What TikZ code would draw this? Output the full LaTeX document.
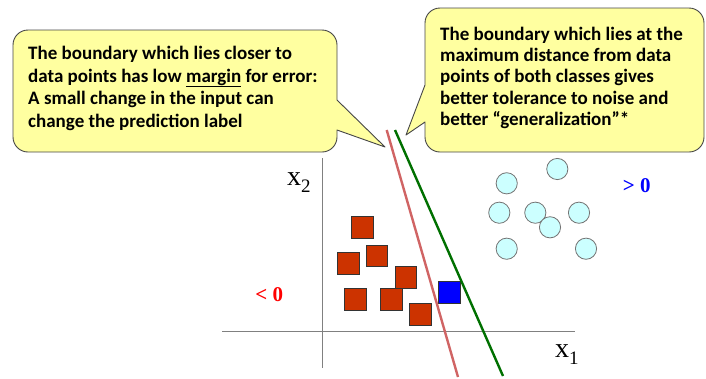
\documentclass[tikz,border=0pt]{standalone}
\usepackage{fontspec}
\setmainfont{Carlito}
\newfontfamily\axisserif{Liberation Serif}
\definecolor{noteyellow}{RGB}{255,255,160}
\definecolor{noteedge}{RGB}{70,70,70}
\definecolor{classred}{RGB}{204,51,0}
\definecolor{classcyan}{RGB}{204,255,255}
\definecolor{lowline}{RGB}{208,100,100}
\definecolor{wideline}{RGB}{0,112,0}
\definecolor{axisgray}{RGB}{128,128,128}
\tikzset{
  notebox/.style={
    draw=noteedge,
    fill=noteyellow,
    line width=0.9pt,
    line join=round
  },
  notetext/.style={
    anchor=north west,
    inner sep=0pt,
    align=left,
    font=\bfseries\fontsize{19}{22.7}\selectfont
  },
  axisline/.style={
    draw=axisgray,
    line width=1.4pt
  },
  boundary/.style={
    line width=2.4pt
  },
  squarept/.style={
    draw=black!80,
    line width=0.6pt,
    fill=classred
  },
  circlept/.style={
    draw=black!55,
    line width=0.8pt,
    fill=classcyan
  },
  axislabel/.style={
    anchor=base west,
    inner sep=0pt,
    font=\axisserif\fontsize{28}{28}\selectfont
  },
  signlabel/.style={
    inner sep=0pt,
    font=\axisserif\bfseries\fontsize{21}{21}\selectfont
  }
}
\newcommand{\axsub}[1]{\raisebox{-0.27em}{\fontsize{19}{19}\selectfont #1}}

\begin{document}
\begin{tikzpicture}[x=1pt,y=-1pt]
  \useasboundingbox (0,0) rectangle (706,378);

  % Callout on the left, pointing at the red boundary.
  \path[notebox] (13,91) [rounded corners=15pt] -- (13,30) -- (337,30)
    [sharp corners] -- (337,100) -- (385,147) -- (337,130)
    [rounded corners=15pt] -- (337,152) -- (13,152) -- cycle;
  \node[notetext] (closenote) at (28,45.8)
    {The boundary which lies closer to\\
     data points has low \underline{margin} for error:\\
     A small change in the input can\\
     change the prediction label};

  % Callout on the right, pointing at the green boundary.
  \path[notebox] (425,50) [rounded corners=15pt] -- (425,8) -- (704,8)
    -- (704,152) -- (425,152) [sharp corners] -- (425,122) -- (406,135)
    -- (425,85) -- cycle;
  \node[notetext,font=\bfseries\fontsize{19}{21.3}\selectfont]
    (farnote) at (440,26.6)
    {The boundary which lies at the\\
     maximum distance from data\\
     points of both classes gives\\
     better tolerance to noise and\\
     better “generalization”*};

  % Axes.
  \coordinate (origin) at (322.7,331.7);
  \draw[axisline] (origin |- 0,158) -- (origin |- 0,368);
  \draw[axisline] (222,331.7) -- (575,331.7);
  \node[axislabel] (xtwo) at (287,185) {x\axsub{2}};
  \node[axislabel] (xone) at (555,357.3) {x\axsub{1}};

  % Class of squares.
  \foreach \cx/\cy in {362.5/227.5, 348.2/263.5, 376.8/255.8, 405.8/277.5,
                       355.2/299.2, 391.2/299.2, 420.2/314.2}
    \draw[squarept] (\cx-10.8,\cy-10.8) rectangle ++(21.6,21.6);
  \draw[squarept,fill=blue] (449.2-10.8,292.5-10.8) rectangle ++(21.6,21.6);

  % Class of circles.
  \foreach \cx/\cy in {557.3/169, 506.7/183.3, 499.3/212.7, 535.3/212.7,
                       579/212.7, 550/227.3, 506.7/248.7, 586/248.7}
    \draw[circlept] (\cx,\cy) circle[radius=10.6];

  % The two decision boundaries.
  \draw[boundary,draw=lowline] (386.7,130) -- (458,377);
  \draw[boundary,draw=wideline] (395,130) -- (503,376);

  \node[signlabel,text=blue] (posside) at (636.7,186) {> 0};
  \node[signlabel,text=red] (negside) at (269.3,295) {< 0};

\end{tikzpicture}
\end{document}
